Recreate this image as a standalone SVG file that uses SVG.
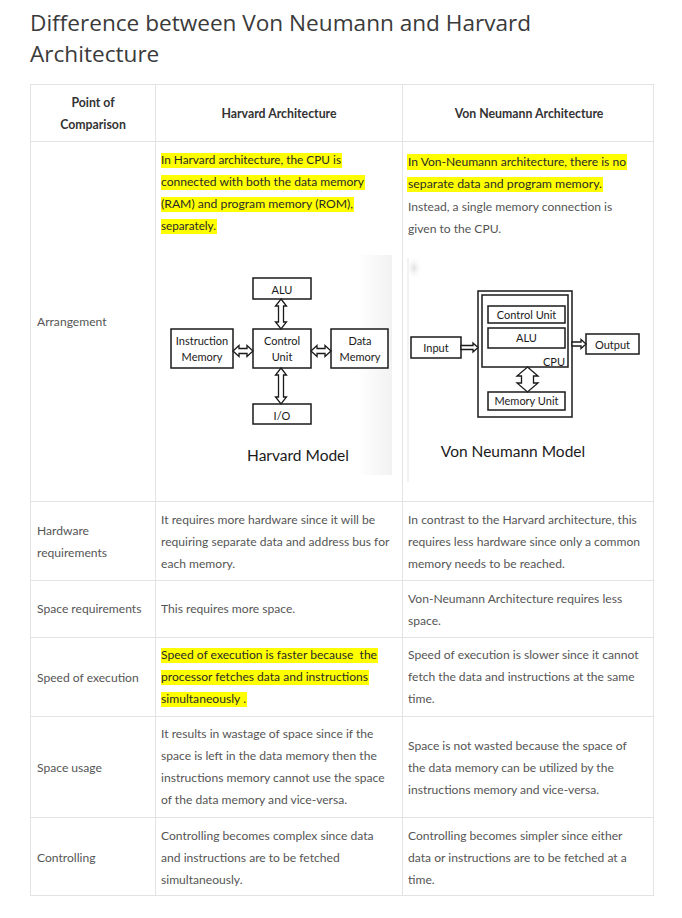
<svg xmlns="http://www.w3.org/2000/svg" width="682" height="918" viewBox="0 0 682 918">
<defs>
<style>
.title{font-family:"Open Sans","Noto Sans",sans-serif;font-size:22.6px;fill:#3a3a3a;}
.th{font-family:Lato,"Noto Sans",sans-serif;font-size:12.3px;font-weight:bold;fill:#333;}
.td{font-family:Lato,"Noto Sans",sans-serif;font-size:12.1px;fill:#555;}
.hl{font-family:Lato,"Noto Sans",sans-serif;font-size:12.1px;fill:#2a2a2a;}
.hb{fill:#ffff00;}
.grid{stroke:#e3e3e3;stroke-width:1;fill:none;}
.box{fill:#fff;stroke:#1a1a1a;stroke-width:1.5;}
.arr{fill:#fff;stroke:#1a1a1a;stroke-width:1.3;stroke-linejoin:miter;}
.bt{font-family:Lato,"Noto Sans",sans-serif;font-size:11px;fill:#1a1a1a;text-anchor:middle;}
.cap{font-family:Lato,"Noto Sans",sans-serif;font-size:15.5px;fill:#1a1a1a;text-anchor:middle;}
</style>
<linearGradient id="hg" x1="0" y1="0" x2="1" y2="0">
<stop offset="0" stop-color="#ffffff"/>
<stop offset="0.85" stop-color="#ffffff"/>
<stop offset="1" stop-color="#f2f2f2"/>
</linearGradient>
<radialGradient id="vg" cx="0.5" cy="0.5" r="0.5">
<stop offset="0" stop-color="#e0e0e0"/>
<stop offset="1" stop-color="#ffffff" stop-opacity="0"/>
</radialGradient>
</defs>
<rect width="682" height="918" fill="#fff"/>

<g id="title">
<text class="title" x="30" y="31">Difference between Von Neumann and Harvard</text>
<text class="title" x="30" y="62">Architecture</text>
</g>

<g id="table-grid">
<rect class="grid" x="30.5" y="84.5" width="623" height="811"/>
<line class="grid" x1="155.5" y1="84.5" x2="155.5" y2="895.5"/>
<line class="grid" x1="402.5" y1="84.5" x2="402.5" y2="895.5"/>
<line class="grid" x1="30.5" y1="141.5" x2="653.5" y2="141.5"/>
<line class="grid" x1="30.5" y1="501.5" x2="653.5" y2="501.5"/>
<line class="grid" x1="30.5" y1="580.5" x2="653.5" y2="580.5"/>
<line class="grid" x1="30.5" y1="637.5" x2="653.5" y2="637.5"/>
<line class="grid" x1="30.5" y1="716.5" x2="653.5" y2="716.5"/>
<line class="grid" x1="30.5" y1="817.5" x2="653.5" y2="817.5"/>
</g>

<g id="header">
<text class="th" x="93" y="107" text-anchor="middle">Point of</text>
<text class="th" x="93" y="129" text-anchor="middle">Comparison</text>
<text class="th" x="279" y="118" text-anchor="middle">Harvard Architecture</text>
<text class="th" x="529" y="118" text-anchor="middle">Von Neumann Architecture</text>
</g>

<g id="row-arrangement">
<text class="td" x="37" y="326">Arrangement</text>
<rect class="hb" x="161" y="153" width="181" height="15"/>
<rect class="hb" x="161" y="175" width="204" height="15"/>
<rect class="hb" x="161" y="197" width="193" height="15"/>
<rect class="hb" x="161" y="219" width="56" height="15"/>
<text class="hl" x="161" y="164" textLength="180" lengthAdjust="spacingAndGlyphs">In Harvard architecture, the CPU is</text>
<text class="hl" x="161" y="186" textLength="203" lengthAdjust="spacingAndGlyphs">connected with both the data memory</text>
<text class="hl" x="161" y="208" textLength="192" lengthAdjust="spacingAndGlyphs">(RAM) and program memory (ROM),</text>
<text class="hl" x="161" y="230" textLength="55" lengthAdjust="spacingAndGlyphs">separately.</text>
<rect class="hb" x="407" y="154" width="220" height="16"/>
<rect class="hb" x="407" y="177" width="196" height="15"/>
<text class="hl" x="408" y="166" textLength="218" lengthAdjust="spacingAndGlyphs">In Von-Neumann architecture, there is no</text>
<text class="hl" x="408" y="188" textLength="194" lengthAdjust="spacingAndGlyphs">separate data and program memory.</text>
<text class="td" x="408" y="211">Instead, a single memory connection is</text>
<text class="td" x="408" y="233">given to the CPU.</text>
</g>

<g id="harvard-model">
<rect x="160" y="255" width="232" height="220" fill="url(#hg)"/>
<g id="h-alu"><rect class="box" x="253" y="278" width="58" height="21"/><text class="bt" x="282" y="294">ALU</text></g>
<g id="h-control"><rect class="box" x="253" y="329" width="58" height="39"/><text class="bt" x="282" y="345">Control</text><text class="bt" x="282" y="361">Unit</text></g>
<g id="h-imem"><rect class="box" x="171" y="329" width="62" height="39"/><text class="bt" x="202" y="345" font-size="10.5">Instruction</text><text class="bt" x="202" y="361" font-size="10.5">Memory</text></g>
<g id="h-dmem"><rect class="box" x="331" y="329" width="57" height="39"/><text class="bt" x="360" y="345">Data</text><text class="bt" x="360" y="361">Memory</text></g>
<g id="h-io"><rect class="box" x="253" y="404" width="58" height="20"/><text class="bt" x="282" y="420">I/O</text></g>
<g id="h-connectors">
<path class="arr" d="M281,299 L286.5,306 L283.5,306 L283.5,322 L286.5,322 L281,329 L275.5,322 L278.5,322 L278.5,306 L275.5,306 Z"/>
<path class="arr" d="M281,368 L286.5,375 L283.5,375 L283.5,397 L286.5,397 L281,404 L275.5,397 L278.5,397 L278.5,375 L275.5,375 Z"/>
<path class="arr" d="M233,351 L239,345.5 L239,348.5 L247,348.5 L247,345.5 L253,351 L247,356.5 L247,353.5 L239,353.5 L239,356.5 Z"/>
<path class="arr" d="M311,351 L317,345.5 L317,348.5 L325,348.5 L325,345.5 L331,351 L325,356.5 L325,353.5 L317,353.5 L317,356.5 Z"/>
</g>
<text class="cap" x="298" y="461">Harvard Model</text>
</g>

<g id="vonneumann-model">
<line x1="408" y1="258" x2="408" y2="482" stroke="#e6e6e6" stroke-width="1"/>
<ellipse cx="414" cy="268" rx="8" ry="12" fill="url(#vg)"/>
<rect class="box" x="478" y="291" width="94" height="126"/>
<rect class="box" x="482" y="295" width="86" height="72"/>
<g id="v-control"><rect class="box" x="488" y="306" width="77" height="17"/><text class="bt" x="526.5" y="319">Control Unit</text></g>
<g id="v-alu"><rect class="box" x="488" y="328" width="77" height="20"/><text class="bt" x="526.5" y="342">ALU</text></g>
<text class="bt" x="565" y="366" style="text-anchor:end">CPU</text>
<g id="v-mem"><rect class="box" x="488" y="392" width="77" height="18"/><text class="bt" x="526.5" y="405" font-size="10">Memory Unit</text></g>
<g id="v-input"><rect class="box" x="411" y="337" width="50" height="21"/><text class="bt" x="436" y="352" font-size="11.5">Input</text></g>
<g id="v-output"><rect class="box" x="586" y="334" width="53" height="20"/><text class="bt" x="612.5" y="349" font-size="11.5">Output</text></g>
<g id="v-connectors">
<path class="arr" d="M527.5,367 L538,376 L533.5,376 L533.5,383 L538,383 L527.5,392 L517,383 L521.5,383 L521.5,376 L517,376 Z"/>
<path class="arr" d="M461,345.5 L473,345.5 L473,343 L478,347.5 L473,352 L473,349.5 L461,349.5 Z"/>
<path class="arr" d="M572,342 L581,342 L581,339.5 L586,344 L581,348.5 L581,346 L572,346 Z"/>
</g>
<text class="cap" x="513" y="457">Von Neumann Model</text>
</g>

<g id="row-hardware">
<text class="td" x="37" y="535">Hardware</text>
<text class="td" x="37" y="557">requirements</text>
<text class="td" x="161" y="524">It requires more hardware since it will be</text>
<text class="td" x="161" y="546">requiring separate data and address bus for</text>
<text class="td" x="161" y="568">each memory.</text>
<text class="td" x="408" y="524">In contrast to the Harvard architecture, this</text>
<text class="td" x="408" y="546">requires less hardware since only a common</text>
<text class="td" x="408" y="568">memory needs to be reached.</text>
</g>

<g id="row-space-req">
<text class="td" x="37" y="613">Space requirements</text>
<text class="td" x="161" y="613">This requires more space.</text>
<text class="td" x="408" y="603">Von-Neumann Architecture requires less</text>
<text class="td" x="408" y="625">space.</text>
</g>

<g id="row-speed">
<text class="td" x="37" y="682">Speed of execution</text>
<rect class="hb" x="161" y="648" width="217" height="15"/>
<rect class="hb" x="161" y="670" width="208" height="15"/>
<rect class="hb" x="161" y="692" width="86" height="15"/>
<text class="hl" x="161" y="659" xml:space="preserve" textLength="216" lengthAdjust="spacingAndGlyphs">Speed of execution is faster because  the</text>
<text class="hl" x="161" y="681" textLength="207" lengthAdjust="spacingAndGlyphs">processor fetches data and instructions</text>
<text class="hl" x="161" y="703" textLength="85" lengthAdjust="spacingAndGlyphs">simultaneously .</text>
<text class="td" x="408" y="659">Speed of execution is slower since it cannot</text>
<text class="td" x="408" y="681">fetch the data and instructions at the same</text>
<text class="td" x="408" y="703">time.</text>
</g>

<g id="row-space-usage">
<text class="td" x="37" y="772">Space usage</text>
<text class="td" x="161" y="738">It results in wastage of space since if the</text>
<text class="td" x="161" y="760">space is left in the data memory then the</text>
<text class="td" x="161" y="782">instructions memory cannot use the space</text>
<text class="td" x="161" y="804">of the data memory and vice-versa.</text>
<text class="td" x="408" y="750">Space is not wasted because the space of</text>
<text class="td" x="408" y="772">the data memory can be utilized by the</text>
<text class="td" x="408" y="794">instructions memory and vice-versa.</text>
</g>

<g id="row-controlling">
<text class="td" x="37" y="862">Controlling</text>
<text class="td" x="161" y="840">Controlling becomes complex since data</text>
<text class="td" x="161" y="862">and instructions are to be fetched</text>
<text class="td" x="161" y="884">simultaneously.</text>
<text class="td" x="408" y="840">Controlling becomes simpler since either</text>
<text class="td" x="408" y="862">data or instructions are to be fetched at a</text>
<text class="td" x="408" y="884">time.</text>
</g>
</svg>
